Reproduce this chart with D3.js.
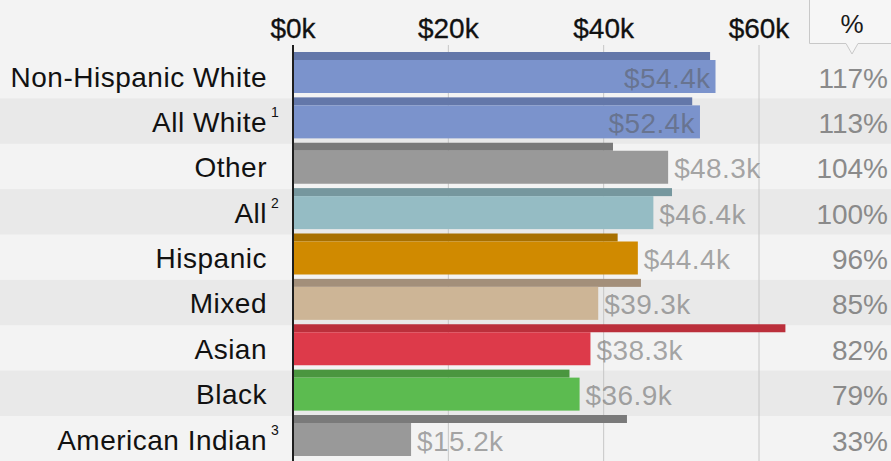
<!DOCTYPE html>
<html>
<head>
<meta charset="utf-8">
<script src="https://cdn.jsdelivr.net/npm/d3@7"></script>
<style>
  html, body { margin: 0; padding: 0; background: #f3f3f3; }
  svg { display: block; }
</style>
</head>
<body>
<div id="chart"></div>
<script>
/* ── Data ── */
const GROUPS   = ['Non-Hispanic White', 'All White', 'Other', 'All', 'Hispanic',
                  'Mixed', 'Asian', 'Black', 'American Indian'];
const NOTES    = ['', '1', '', '2', '', '', '', '', '3'];
const INCOME   = [54.4, 52.4, 48.3, 46.4, 44.4, 39.3, 38.3, 36.9, 15.2];
const COMPARE  = [53.7, 51.4, 41.2, 48.8, 41.8, 44.8, 63.4, 35.6, 43.0];
const PERCENT  = [117, 113, 104, 100, 96, 85, 82, 79, 33];
const TICKS    = [0, 20, 40, 60];
const CLR_MAIN = ['#7b93cc', '#7b93cc', '#999999', '#95bcc4', '#d08a00',
                  '#cdb596', '#dd3a4a', '#5cbb50', '#999999'];
const CLR_DARK = ['#6377a9', '#6377a9', '#7a7a7a', '#76979e', '#a87000',
                  '#a38f7a', '#bb2f3b', '#4a963f', '#7a7a7a'];

const W = 891, H = 461;
const FONT = "'Liberation Sans', Arial, Helvetica, sans-serif";

const rows = GROUPS.map((g, i) => ({
  name: g, note: NOTES[i], v: INCOME[i], c: COMPARE[i], pct: PERCENT[i],
  main: CLR_MAIN[i], dark: CLR_DARK[i], i,
}));

/* ── Scales ── */
const x = d3.scaleLinear().domain([0, 60]).range([293, 759]);
const y = d3.scaleBand().domain(GROUPS).range([52, 52 + 45.375 * GROUPS.length]);

const svg = d3.select('#chart').append('svg')
  .attr('width', W).attr('height', H)
  .style('background', '#f3f3f3')
  .attr('font-family', FONT);

/* ── Row bands ── */
svg.append('g').selectAll('rect')
  .data(rows.filter(d => d.i % 2 === 1))
  .join('rect')
  .attr('x', 0).attr('width', W)
  .attr('y', d => y(d.name) + 1)
  .attr('height', y.bandwidth())
  .attr('fill', '#e9e9e9');

/* ── Grid ── */
svg.append('g').selectAll('line')
  .data(TICKS.slice(1))
  .join('line')
  .attr('x1', d => x(d)).attr('x2', d => x(d))
  .attr('y1', 45).attr('y2', H)
  .attr('stroke', '#c6c6c6').attr('stroke-width', 1);

/* ── Axis labels ── */
svg.append('g').selectAll('text')
  .data(TICKS)
  .join('text')
  .attr('x', d => x(d)).attr('y', 38)
  .attr('text-anchor', 'middle')
  .attr('font-size', 28)
  .attr('fill', '#111')
  .attr('stroke', '#111').attr('stroke-width', 0.3)
  .text(d => `$${d}k`);

/* ── Compare bars (thin, top) ── */
svg.append('g').selectAll('rect')
  .data(rows)
  .join('rect')
  .attr('x', x(0)).attr('y', d => y(d.name))
  .attr('width', d => x(d.c) - x(0))
  .attr('height', 8)
  .attr('fill', d => d.dark);

/* ── Main bars ── */
svg.append('g').selectAll('rect')
  .data(rows)
  .join('rect')
  .attr('x', x(0)).attr('y', d => y(d.name) + 8)
  .attr('width', d => x(d.v) - x(0))
  .attr('height', 33)
  .attr('fill', d => d.main);

/* ── Zero line ── */
svg.append('line')
  .attr('x1', x(0)).attr('x2', x(0))
  .attr('y1', 45).attr('y2', H)
  .attr('stroke', '#1e1e1e').attr('stroke-width', 2);

/* ── Category labels ── */
const lab = svg.append('g');
lab.selectAll('text.name')
  .data(rows)
  .join('text')
  .attr('class', 'name')
  .attr('x', 267).attr('y', d => y(d.name) + 34.5)
  .attr('text-anchor', 'end')
  .attr('font-size', 28)
  .attr('letter-spacing', 0.5)
  .attr('fill', '#111')
  .text(d => d.name);
lab.selectAll('text.note')
  .data(rows.filter(d => d.note))
  .join('text')
  .attr('class', 'note')
  .attr('x', 271).attr('y', d => y(d.name) + 20)
  .attr('font-size', 14)
  .attr('fill', '#111')
  .text(d => d.note);

/* ── Value labels ── */
const vals = svg.append('g').selectAll('text')
  .data(rows)
  .join('text')
  .attr('y', d => y(d.name) + 35.5)
  .attr('font-size', 28)
  .attr('letter-spacing', 0.4)
  .attr('fill', '#555')
  .attr('fill-opacity', 0.5)
  .text(d => `$${d.v.toFixed(1)}k`);
vals.each(function (d) {
  const w = this.getComputedTextLength();
  const inside = x(d.v) + 6 + w > x.range()[1] + 15;
  d3.select(this)
    .attr('x', inside ? x(d.v) - 5 : x(d.v) + 6)
    .attr('text-anchor', inside ? 'end' : 'start');
});

/* ── Percent header ── */
const hdr = svg.append('g');
hdr.append('path')
  .attr('d', 'M809.5,-1 L892,-1 L892,43.5 L858,43.5 L852,54 L846,43.5 L809.5,43.5 Z')
  .attr('fill', '#f6f6f6')
  .attr('stroke', '#c8c8c8');
hdr.append('text')
  .attr('x', 852).attr('y', 33)
  .attr('text-anchor', 'middle')
  .attr('font-size', 26)
  .attr('fill', '#1a1a1a')
  .text('%');

/* ── Percent column ── */
svg.append('g').selectAll('text')
  .data(rows)
  .join('text')
  .attr('x', 888).attr('y', d => y(d.name) + 35.5)
  .attr('text-anchor', 'end')
  .attr('font-size', 28)
  .attr('fill', '#8a8a8a')
  .text(d => `${d.pct}%`);
</script>
</body>
</html>
